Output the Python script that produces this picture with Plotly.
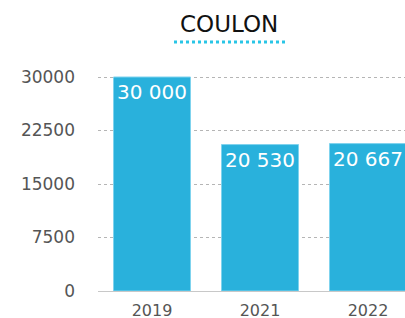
import plotly.graph_objects as go

categories = ["2019", "2021", "2022"]
values = [30000, 20530, 20667]
tick_vals = [0, 7500, 15000, 22500, 30000]
tick_text = ["0", "7500", "15000", "22500", "30000"]
title_text = "COULON"

W, H = 405, 318
L, R, T, B = 98, 0, 73, 27
plot_w = W - L - R
plot_h = H - T - B
y_top = 30000 * plot_h / 214.0
FONT = "DejaVu Sans"


def py(px):
    return (291 - px) / plot_h


fig = go.Figure(go.Bar(
    x=categories,
    y=values,
    width=0.713,
    marker=dict(color="#29b1dc", line=dict(color="#7fd3ee", width=1)),
    texttemplate="%{y:,}",
    textposition="inside",
    insidetextanchor="end",
    textfont=dict(color="white", size=20, family=FONT),
    cliponaxis=False,
))

fig.update_layout(
    width=W, height=H,
    margin=dict(l=L, r=R, t=T, b=B, autoexpand=False),
    paper_bgcolor="white", plot_bgcolor="white",
    separators=". ",
    showlegend=False,
    font=dict(family=FONT, color="#555555", size=15),
    annotations=[dict(
        text=title_text, xref="paper", yref="paper",
        x=(229 - L) / plot_w, y=py(24),
        xanchor="center", yanchor="middle", showarrow=False,
        font=dict(size=23, color="#111111", family=FONT),
    )],
    shapes=[dict(
        type="line", xref="paper", yref="paper",
        x0=(174 - L) / plot_w, x1=(285 - L) / plot_w,
        y0=py(42), y1=py(42),
        line=dict(color="#29c5e6", width=3, dash="dot"),
    )],
)

fig.update_xaxes(
    range=[-0.5, -0.5 + plot_w / 108],
    showline=True, linecolor="#c8c8c8", linewidth=1,
    showgrid=False, ticks="", tickfont=dict(size=16, color="#555555"),
    ticklabelstandoff=5,
    fixedrange=True,
)
fig.update_yaxes(
    range=[0, y_top],
    tickvals=tick_vals, ticktext=tick_text,
    showgrid=True, gridcolor="#b5b5b5", griddash="dot", gridwidth=1,
    zeroline=False, showline=False, ticks="",
    ticklabelstandoff=22,
    tickfont=dict(size=17, color="#555555"),
    fixedrange=True,
)

fig.write_html(
    "out.html",
    config={"displayModeBar": False},
    post_script="document.body.style.margin='0px';",
)
